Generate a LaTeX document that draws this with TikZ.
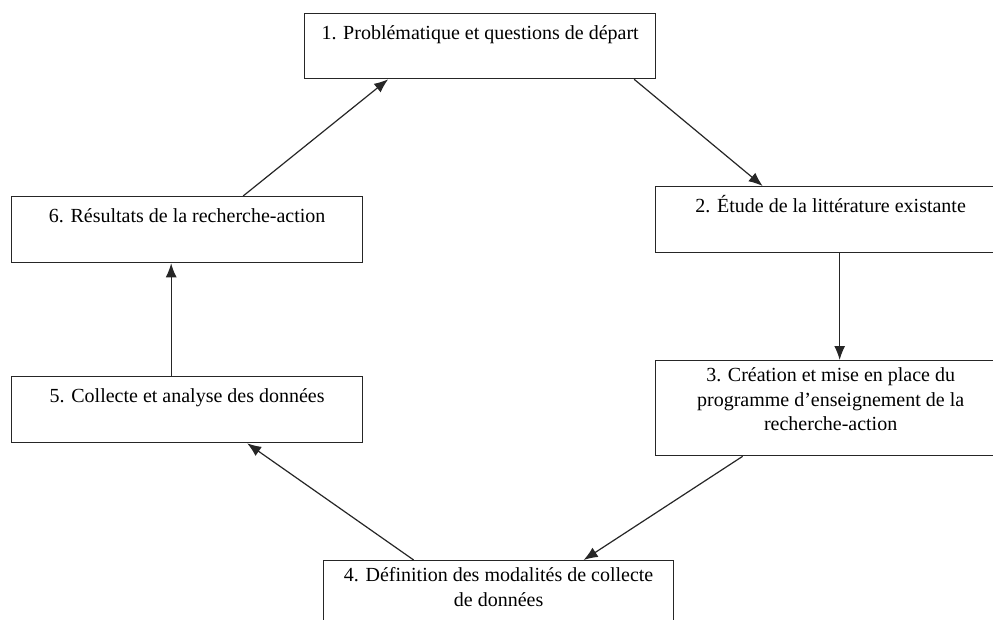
\documentclass[tikz,border=0pt]{standalone}
\usepackage{fontspec}
\setmainfont{Liberation Serif}
\usetikzlibrary{positioning,arrows.meta}

\begin{document}
\begin{tikzpicture}[x=1pt,y=-1pt,
  etape/.style={draw=black!85, line width=1.3pt, rectangle, inner sep=0pt, anchor=north west},
  libelle/.style={font=\fontsize{20}{24.5}\selectfont, align=center, inner sep=0pt, execute at begin node={\rule{0pt}{19pt}}},
  fleche/.style={draw=black!85, line width=1.2pt, -{Latex[length=14pt,width=11pt]}}]
\useasboundingbox (0,0) rectangle (993,620);
\clip (0,0) rectangle (993,620);
\fill [white] (0,0) rectangle (993,620);
\node [etape, minimum width=351pt, minimum height=65pt] (p1) at (304,13) {};
\node [etape, minimum width=350pt, minimum height=66pt] (p2) at (655,186) {};
\node [etape, minimum width=350pt, minimum height=95pt] (p3) at (655,360) {};
\node [etape, minimum width=350pt, minimum height=80pt] (p4) at (323,560) {};
\node [etape, minimum width=351pt, minimum height=66pt] (p5) at (11,376) {};
\node [etape, minimum width=351pt, minimum height=66pt] (p6) at (11,196) {};
\node [libelle, below=7.5pt of p1.north] (t1) {1. Problématique et questions de départ};
\node [libelle, below=7.5pt of p2.north] (t2) {2. Étude de la littérature existante};
\node [libelle, below=7.5pt of p3.north] (t3) {3. Création et mise en place du\\programme d’enseignement de la\\recherche-action};
\node [libelle, below=7.5pt of p4.north] (t4) {4. Définition des modalités de collecte\\de données};
\node [libelle, below=7.5pt of p5.north] (t5) {5. Collecte et analyse des données};
\node [libelle, below=7.5pt of p6.north] (t6) {6. Résultats de la recherche-action};
\draw [fleche] ([xshift=56pt]p6.north) -- ([xshift=-92pt]p1.south);
\draw [fleche] ([xshift=154pt]p1.south) -- ([xshift=-68pt]p2.north);
\draw [fleche] ([xshift=9pt]p2.south) -- ([xshift=9pt]p3.north);
\draw [fleche] ([xshift=-88pt]p3.south) -- ([xshift=85pt]p4.north);
\draw [fleche] ([xshift=-85pt]p4.north) -- ([xshift=60pt]p5.south);
\draw [fleche] ([xshift=-16pt]p5.north) -- ([xshift=-16pt]p6.south);
\end{tikzpicture}
\end{document}
